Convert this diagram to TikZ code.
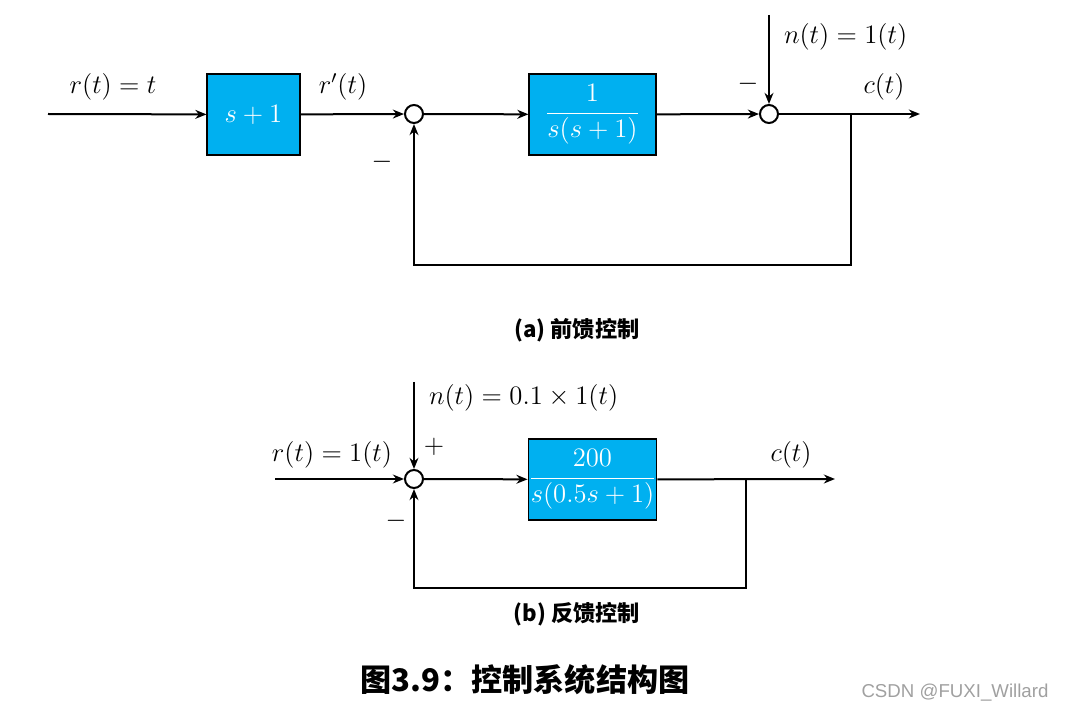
\documentclass[tikz,border=0pt]{standalone}
\usepackage{fontspec}
\newfontfamily\cjk{Noto Sans CJK SC}
\newfontfamily\wm{Liberation Sans}
\usetikzlibrary{arrows.meta}
\definecolor{blkblue}{RGB}{0,176,240}
\definecolor{wmgray}{RGB}{160,160,160}
\begin{document}
\begin{tikzpicture}[x=0.45pt,y=-0.45pt,
  line width=0.9pt,
  blk/.style={draw=black,line width=0.5pt,fill=blkblue,inner sep=0pt,text=white,font=\large},
  sumc/.style={draw=black,circle,fill=white,minimum size=8.1pt,inner sep=0pt},
  arr/.style={-{Stealth[length=5pt,width=4pt]}},
  lbl/.style={font=\large,inner sep=0pt},
  captxt/.style={font=\cjk\bfseries,inner sep=0pt}]
\useasboundingbox (0,0) rectangle (1065,712);
% ---------- (a) ----------
\node[blk,minimum width=41.85pt,minimum height=36.45pt] (b1) at (253.5,114.5) {$s+1$};
\node[blk,minimum width=57.15pt,minimum height=36.45pt] (b2) at (592.5,114.5) {$\displaystyle\frac{1}{s(s+1)}$};
\node[sumc] (s1) at (414,114) {};
\node[sumc] (s2) at (769,114) {};
\coordinate (in1) at (48,114);
\coordinate (n1) at (769,15);
\coordinate (out1) at (920,114);
\coordinate (br1) at (851,114);
\coordinate (fa) at (851,265);
\coordinate (fb) at (414,265);
\draw[arr] (in1) -- (b1);
\draw[arr] (b1) -- (s1);
\draw[arr] (s1) -- (b2);
\draw[arr] (b2) -- (s2);
\draw[arr] (n1) -- (s2);
\draw[arr] (s2) -- (out1);
\draw[arr] (br1) -- (fa) -- (fb) -- (s1);
\node[lbl] (l1) at (113,87) {$r(t)=t$};
\node[lbl] (l2) at (343,87) {$r'(t)$};
\node[lbl,anchor=west] (l3) at (783,37) {$n(t)=1(t)$};
\node[lbl] (l4) at (748,84) {$-$};
\node[lbl] (l5) at (884,87) {$c(t)$};
\node[lbl] (l6) at (382,162) {$-$};
\node[captxt] (ca) at (577,330) {(a) 前馈控制};
% ---------- (b) ----------
\node[blk,minimum width=57.15pt,minimum height=36.45pt] (b3) at (592.5,479.5) {$\displaystyle\frac{200}{s(0.5s+1)}$};
\node[sumc] (s3) at (414,479) {};
\coordinate (in3) at (275,479);
\coordinate (n3) at (414,382);
\coordinate (out3) at (835,479);
\coordinate (br3) at (746,479);
\coordinate (fc) at (746,588);
\coordinate (fd) at (414,588);
\draw[arr] (in3) -- (s3);
\draw[arr] (n3) -- (s3);
\draw[arr] (s3) -- (b3);
\draw[arr] (b3) -- (out3);
\draw[arr] (br3) -- (fc) -- (fd) -- (s3);
\node[lbl] (m1) at (332,455) {$r(t)=1(t)$};
\node[lbl,anchor=west] (m2) at (428,398) {$n(t)=0.1\times1(t)$};
\node[lbl] (m3) at (434,447) {$+$};
\node[lbl] (m4) at (791,455) {$c(t)$};
\node[lbl] (m5) at (396,521) {$-$};
\node[captxt] (cb) at (577,614) {(b) 反馈控制};
% ---------- title ----------
\node[captxt,font=\cjk\bfseries\fontsize{14}{17}\selectfont] (title) at (525,680) {图3.9：控制系统结构图};
\node[inner sep=0pt,text=wmgray,font=\wm\fontsize{8.4}{10}\selectfont] (wmk) at (955,693) {CSDN @FUXI\_Willard};
\end{tikzpicture}
\end{document}
